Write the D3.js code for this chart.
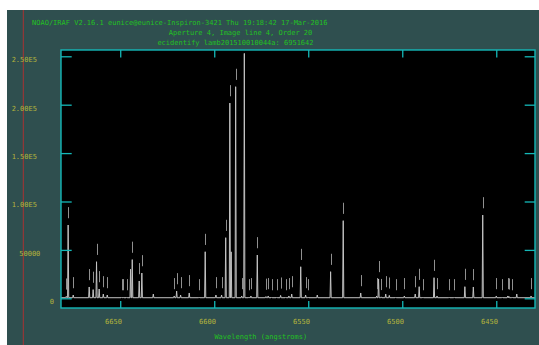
<!DOCTYPE html>
<html>
<head>
<meta charset="utf-8">
<script src="https://cdn.jsdelivr.net/npm/d3@7"></script>
<style>
  html, body { margin: 0; padding: 0; background: #ffffff; overflow: hidden; }
  svg { display: block; }
</style>
</head>
<body>
<svg id="chart" width="539" height="345"></svg>
<script>
// ---- header text ----
const titleLines = [
  "NOAO/IRAF V2.16.1 eunice@eunice-Inspiron-3421 Thu 19:18:42 17-Mar-2016",
  "Aperture 4, Image line 4, Order 20",
  "ecidentify lamb201510010044a: 6951642"
];
const xAxisLabel = "Wavelength (angstroms)";

// ---- axis ticks ----
const xTickValues = [6650, 6600, 6550, 6500, 6450];
const xTickLabels = ["6650", "6600", "6550", "6500", "6450"];
const yTickValues = [0, 50000, 100000, 150000, 200000, 250000];
const yTickLabels = ["0", "50000", "1.00E5", "1.50E5", "2.00E5", "2.50E5"];
const xDomain = [6681.5, 6429.4];
const yDomain = [-10020, 256500];

// ---- arc lamp emission lines: wavelength (A), peak counts, identified (1) ----
const lineWave = [
  6678.7, 6677.7, 6675.0, 6666.5, 6664.4, 6662.6, 6661.2, 6659.0, 6656.9,
  6649.3, 6648.4, 6646.6, 6644.5, 6643.6, 6639.9, 6638.5, 6632.4, 6621.3,
  6620.0, 6617.9, 6613.3, 6608.0, 6604.8, 6599.1, 6596.1, 6593.9, 6591.7,
  6591.0, 6588.6, 6585.4, 6584.0, 6581.5, 6580.5, 6577.1, 6572.5, 6571.3,
  6569.5, 6566.8, 6564.7, 6562.0, 6560.3, 6558.8, 6554.0, 6551.4, 6550.0,
  6545.2, 6538.1, 6531.4, 6522.1, 6513.6, 6512.6, 6511.2, 6508.8, 6506.9,
  6503.5, 6498.9, 6493.1, 6491.0, 6489.0, 6483.1, 6481.5, 6475.0, 6472.3,
  6466.7, 6462.2, 6457.2, 6450.0, 6446.8, 6443.9, 6443.3, 6441.5, 6439.1,
  6431.5
];
const lineFlux = [
  2000, 75700, 3400, 11700, 9000, 37800, 9600, 4400, 3400,
  1300, 1300, 1300, 30000, 40000, 17900, 26100, 4400, 2400,
  7500, 3400, 5500, 1300, 48100, 3400, 3400, 62600, 201700,
  48000, 218600, 2400, 253000, 1300, 2400, 44700, 1800, 2400,
  1300, 1300, 3000, 1300, 2400, 4400, 32600, 3400, 1300,
  3400, 27500, 80200, 5500, 2400, 20000, 1500, 4400, 3000,
  1300, 2400, 4400, 12000, 1300, 21300, 2400, 1300, 1300,
  12000, 11700, 86000, 2400, 1300, 2400, 2000, 1300, 4400,
  2400
];
const lineMarked = [
  1, 1, 1, 1, 1, 1, 1, 1, 1,
  1, 1, 1, 0, 1, 1, 1, 0, 1,
  1, 1, 1, 1, 1, 1, 1, 1, 1,
  0, 1, 1, 1, 1, 1, 1, 1, 1,
  1, 1, 1, 1, 1, 1, 1, 1, 1,
  0, 1, 1, 1, 1, 1, 1, 1, 1,
  1, 1, 1, 1, 1, 1, 1, 1, 1,
  1, 1, 1, 1, 1, 1, 1, 1, 0,
  1
];
const continuumLevel = 600;

// ---- layout ----
const W = 539, H = 345;
const plot = { left: 61, top: 50, right: 535, bottom: 308 };
const colors = {
  page: "#2f4f4f",
  frame: "#14b8b8",
  title: "#22c022",
  tickText: "#b4b43c",
  spectrum: "#c4c4c4",
  mark: "#909090",
  cursor: "#a83232"
};
const fontFamily = "'DejaVu Sans Mono', 'Liberation Mono', monospace";
const fontSize = 7;
const glyphW = 4.22;     // drawn width of one character
const slotW = 7.6;       // character cell used for justification
const lineHalfWidth = 0.3;   // A, half-width of each drawn emission spike
const markGap = 7000, markLen = 11500;

const svg = d3.select("#chart");

// white margins and the graphics window
svg.append("rect").attr("width", W).attr("height", H).attr("fill", "#ffffff");
svg.append("rect").attr("x", 7).attr("y", 10).attr("width", W - 7).attr("height", H - 10)
  .attr("fill", colors.page);

// cursor line
svg.append("line").attr("x1", 23.3).attr("x2", 23.3).attr("y1", 10).attr("y2", H)
  .attr("stroke", colors.cursor).attr("stroke-width", 1);

const x = d3.scaleLinear().domain(xDomain).range([plot.left, plot.right]);
const y = d3.scaleLinear().domain(yDomain).range([plot.bottom, plot.top]);
const cx = (plot.left + plot.right) / 2;

function addText(str, left, yMid, color) {
  svg.append("text")
    .attr("x", left).attr("y", yMid + 2.5)
    .attr("fill", color)
    .attr("font-family", fontFamily)
    .attr("font-size", fontSize)
    .attr("textLength", str.length * glyphW)
    .attr("lengthAdjust", "spacingAndGlyphs")
    .text(str);
}

// titles, centred on the viewport using the character cell
const titleY = [22, 32.7, 42.7];
titleLines.forEach((t, i) => addText(t, cx - t.length * slotW / 2, titleY[i], colors.title));

// clip region for data
svg.append("clipPath").attr("id", "plotClip")
  .append("rect").attr("x", plot.left).attr("y", plot.top)
  .attr("width", plot.right - plot.left).attr("height", plot.bottom - plot.top);

svg.append("rect").attr("x", plot.left).attr("y", plot.top)
  .attr("width", plot.right - plot.left).attr("height", plot.bottom - plot.top)
  .attr("fill", "#000000");

// spectrum polyline: continuum with a narrow spike at every line
const lines = lineWave.map((w, i) => ({ w, f: lineFlux[i], marked: lineMarked[i] === 1 }))
  .sort((a, b) => b.w - a.w);
const pts = [[xDomain[0], continuumLevel]];
lines.forEach(l => {
  pts.push([l.w + lineHalfWidth, continuumLevel]);
  pts.push([l.w, l.f]);
  pts.push([l.w - lineHalfWidth, continuumLevel]);
});
pts.push([xDomain[1], continuumLevel]);

const g = svg.append("g").attr("clip-path", "url(#plotClip)");
g.append("path")
  .attr("d", d3.line().x(d => x(d[0])).y(d => y(d[1]))(pts))
  .attr("fill", "none")
  .attr("stroke", colors.spectrum)
  .attr("stroke-width", 1);

// feature marks above identified lines
g.selectAll("line.mark").data(lines.filter(l => l.marked)).join("line")
  .attr("class", "mark")
  .attr("x1", d => Math.round(x(d.w)) + 0.5).attr("x2", d => Math.round(x(d.w)) + 0.5)
  .attr("y1", d => y(d.f + markGap)).attr("y2", d => y(d.f + markGap + markLen))
  .attr("stroke", colors.mark).attr("stroke-width", 1);

// ticks pointing inward on all four sides
function styleAxis(sel) {
  sel.select(".domain").remove();
  sel.selectAll(".tick line").attr("stroke", colors.frame).attr("stroke-width", 1.3);
  sel.selectAll(".tick text").remove();
}
svg.append("g").attr("transform", `translate(${plot.left},0)`)
  .call(d3.axisLeft(y).tickValues(yTickValues).tickSize(-10.7).tickFormat(""))
  .call(styleAxis);
svg.append("g").attr("transform", `translate(${plot.right},0)`)
  .call(d3.axisRight(y).tickValues(yTickValues).tickSize(-10.3).tickFormat(""))
  .call(styleAxis);
svg.append("g").attr("transform", `translate(0,${plot.top})`)
  .call(d3.axisTop(x).tickValues(xTickValues).tickSize(-7.5).tickFormat(""))
  .call(styleAxis);
svg.append("g").attr("transform", `translate(0,${plot.bottom})`)
  .call(d3.axisBottom(x).tickValues(xTickValues).tickSize(-7).tickFormat(""))
  .call(styleAxis);

// frame
svg.append("rect").attr("x", plot.left).attr("y", plot.top)
  .attr("width", plot.right - plot.left).attr("height", plot.bottom - plot.top)
  .attr("fill", "none").attr("stroke", colors.frame).attr("stroke-width", 1.4);

// tick labels
xTickValues.forEach((v, i) => {
  const s = xTickLabels[i];
  addText(s, x(v) - s.length * slotW / 2, 321.7, colors.tickText);
});
const yLabelRight = 57.25;
yTickValues.forEach((v, i) => {
  const s = yTickLabels[i];
  addText(s, yLabelRight - s.length * slotW, y(v) + 3.5, colors.tickText);
});

// axis label
addText(xAxisLabel, cx - xAxisLabel.length * slotW / 2, 336.7, colors.title);
</script>
</body>
</html>
